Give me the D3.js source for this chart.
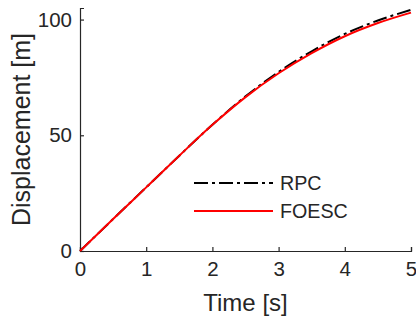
<!DOCTYPE html>
<html><head><meta charset="utf-8">
<script src="https://cdn.jsdelivr.net/npm/d3@7"></script>
<style>body{margin:0;background:#fff}svg{display:block}text{font-family:"Liberation Sans",Arial,sans-serif;fill:#262626}</style>
</head><body><svg id="c" width="416" height="321"></svg>
<script>
const time = [0, 0.5, 1, 1.5, 2, 2.5, 3, 3.5, 4, 4.5, 5];
const rpc = [0, 13.8, 27.5, 41.2, 54.6, 66.8, 77.4, 86.3, 93.8, 99.6, 104.2];
const foesc = [0, 13.8, 27.5, 41.2, 54.5, 66.5, 76.8, 85.5, 92.8, 98.5, 103.0];
const xTicks = [0, 1, 2, 3, 4, 5];
const yTicks = [0, 50, 100];
const seriesNames = ["RPC", "FOESC"];

const svg = d3.select("#c");
const L = 80, R = 411, T = 8, B = 251;
const x = d3.scaleLinear().domain([0, 5]).range([L, R]);
const y = d3.scaleLinear().domain([0, 105]).range([B, T]);
const axisColor = "#262626";

const gx = svg.append("g").attr("transform", `translate(0,${B})`)
  .call(d3.axisBottom(x).tickValues(xTicks).tickSize(-4).tickPadding(10).tickFormat(d3.format("d")));
const gy = svg.append("g").attr("transform", `translate(${L},0)`)
  .call(d3.axisLeft(y).tickValues(yTicks).tickSize(-4).tickPadding(8).tickFormat(d3.format("d")));
[gx, gy].forEach(g => {
  g.select(".domain").attr("stroke", axisColor).attr("stroke-width", 1.2);
  g.selectAll(".tick line").attr("stroke", axisColor).attr("stroke-width", 1.2);
  g.selectAll(".tick text").attr("fill", axisColor).style("font-size", "20.5px");
});
gx.selectAll(".tick text").attr("dy", "0.71em");

const line = vals => d3.line().x((d, i) => x(time[i])).y(d => y(d)).curve(d3.curveMonotoneX)(vals);

svg.append("path").attr("d", line(rpc)).attr("fill", "none").attr("stroke", "#000")
  .attr("stroke-width", 2).attr("stroke-dasharray", "14,4,3,4");
svg.append("path").attr("d", line(foesc)).attr("fill", "none").attr("stroke", "#ff0000")
  .attr("stroke-width", 2);

svg.append("text").attr("x", (L + R) / 2).attr("y", 311).attr("text-anchor", "middle")
  .style("font-size", "24px").text("Time [s]");
svg.append("text").attr("transform", `translate(30,${(T + B) / 2}) rotate(-90)`)
  .attr("text-anchor", "middle").style("font-size", "25px").text("Displacement [m]");

// legend
const leg = [{name: seriesNames[0], color: "#000", dash: "14,4,3,4", yy: 183},
             {name: seriesNames[1], color: "#ff0000", dash: null, yy: 211}];
leg.forEach(l => {
  svg.append("line").attr("x1", 194).attr("x2", 273).attr("y1", l.yy).attr("y2", l.yy)
    .attr("stroke", l.color).attr("stroke-width", 2).attr("stroke-dasharray", l.dash);
  svg.append("text").attr("x", 280).attr("y", l.yy).attr("dy", "0.36em")
    .style("font-size", "19.7px").text(l.name);
});
</script></body></html>
